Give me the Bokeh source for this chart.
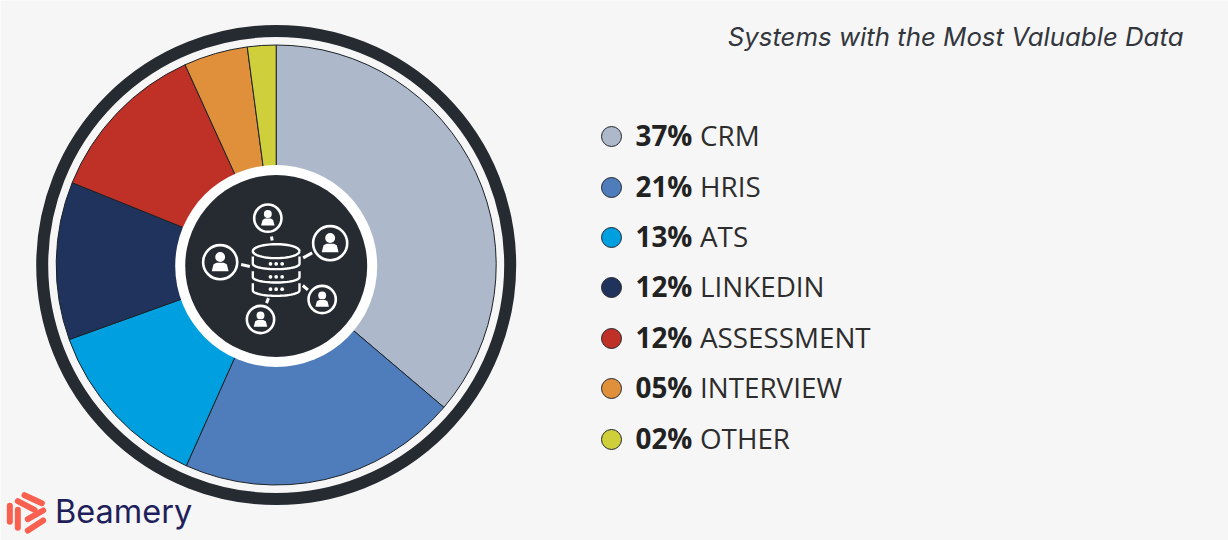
import numpy as np
from bokeh.plotting import figure
from bokeh.models import ColumnDataSource
from bokeh.core.properties import value
from bokeh.embed import file_html
from bokeh.resources import INLINE

categories = ["CRM", "HRIS", "ATS", "LINKEDIN", "ASSESSMENT", "INTERVIEW", "OTHER"]
drawn_shares = [36.2, 20.5, 12.8, 11.6, 12.1, 4.7, 2.1]  # slice sizes
share_labels = ["37%", "21%", "13%", "12%", "12%", "05%", "02%"]
colors = ["#adb9ca", "#4f7cba", "#009fdf", "#20335c", "#bf3026", "#e08f3b", "#cfcf3c"]
title = "Systems with the Most Valuable Data"

BG = "#f6f6f6"
DARK = "#262b31"
W, H = 1228, 540
BASE_SHIFT = 0.38  # distance, in em, between the anchor and the drawn baseline


def Y(y):
    return 540 - y


def base(y, size):
    return Y(y - BASE_SHIFT * size)


p = figure(width=W, height=H, x_range=(0, W), y_range=(0, H),
           output_backend="svg", toolbar_location=None, min_border=0,
           background_fill_color=BG, border_fill_color=BG, outline_line_color=None)
p.axis.visible = False
p.grid.visible = False

CX, CY = 275.7, Y(264.5)
p.circle([CX], [CY], radius=234, fill_color=None, line_color=DARK, line_width=12)

# pie, clockwise from the top
frac = np.array(drawn_shares, dtype=float) / sum(drawn_shares)
cum = np.concatenate([[0], np.cumsum(frac)])
src = ColumnDataSource(dict(
    start=np.pi / 2 - 2 * np.pi * cum[1:],
    end=np.pi / 2 - 2 * np.pi * cum[:-1],
    color=colors,
    x=[CX] * len(drawn_shares), y=[CY] * len(drawn_shares),
))
p.wedge(x="x", y="y", radius=220, start_angle="start", end_angle="end",
        fill_color="color", line_color="#1c2228", line_width=1, source=src)

# centre disc
p.circle([CX], [Y(265.5)], radius=101, fill_color="white", line_color=None)
p.circle([CX], [Y(265.5)], radius=91, fill_color=DARK, line_color=None)


# icon, in coordinates of the 3x crop of the centre
def zx(v):
    return 170 + v / 3


def zy(v):
    return Y(160 + v / 3)


def person(x, y, r):
    cx, cy = zx(x), zy(y)
    rr = r / 3
    p.circle([cx], [cy], radius=rr * 0.93, fill_color=None, line_color="white", line_width=2.6)
    p.circle([cx], [cy + rr * 0.28], radius=rr * 0.27, fill_color="white", line_color=None)
    xs = np.array([-0.46, -0.36, -0.2, 0.2, 0.36, 0.46])
    ys = np.array([-0.5, -0.12, -0.03, -0.03, -0.12, -0.5])
    p.patch(cx + xs * rr, cy + ys * rr, fill_color="white", line_color=None)


for x, y, r in [(292, 173, 44), (479, 248, 55), (149, 305, 55), (455, 417, 44), (270, 477, 44)]:
    person(x, y, r)

for x0, y0, x1, y1 in [(303, 228, 305, 240), (212, 312, 238, 318), (398, 292, 425, 277),
                       (397, 375, 412, 388), (294, 413, 288, 428)]:
    p.line([zx(x0), zx(x1)], [zy(y0), zy(y1)], line_color="white", line_width=3)

t = np.linspace(0, 2 * np.pi, 60)
p.line(zx(317 + 70 * np.cos(t)), zy(272 + 21 * np.sin(t)), line_color="white", line_width=2.4)
for y0, y1 in [(288, 310), (332, 350), (368, 390)]:
    t = np.linspace(np.pi, 0, 30)
    xs = np.concatenate([[317 - 70], 317 + 70 * np.cos(t), [317 + 70]])
    ys = np.concatenate([[y0], y1 + 16 * np.sin(t), [y0]])
    p.line(zx(xs), zy(ys), line_color="white", line_width=2.4)
for y in [310, 349, 386]:
    p.circle([zx(300), zx(317), zx(335)], [zy(y)] * 3, radius=1.9, fill_color="white", line_color=None)

# title
p.text([1183], [base(46, 25.8)], text=[title], text_font=value("Inter"), text_font_style="italic",
       text_font_size="25.8px", text_color="#33373d", text_align="right", text_baseline="alphabetic")

# legend
leg_y = [136, 187, 237, 287, 338, 388, 439]
p.circle([611] * 7, [Y(v) for v in leg_y], radius=10, fill_color=colors, line_color="#23282e", line_width=1)
p.text([635] * 7, [base(v + 9.5, 27.8) for v in leg_y], text=share_labels, text_font=value("Open Sans"),
       text_font_style="bold", text_font_size="27.8px", text_color="#222222", text_baseline="alphabetic")
p.text([699.5] * 7, [base(v + 9.5, 27.8) for v in leg_y], text=categories, text_font=value("Open Sans"),
       text_font_size="27.8px", text_color="#2d2d2d", text_baseline="alphabetic")

# logo
LOGO = "#f9604f"
for x0, y0, x1, y1 in [(72, 44, 124, 68), (52, 62, 102, 88), (28, 76, 28, 124), (52, 88, 52, 142),
                       (128, 90, 82, 116), (128, 120, 82, 150)]:
    p.line([x0 / 3, x1 / 3], [Y(480 + y0 / 3), Y(480 + y1 / 3)], line_color=LOGO,
           line_width=6, line_cap="round")
p.text([54.5], [base(523, 32.5)], text=["Beamery"], text_font=value("Inter"), text_font_size="32.5px",
       text_color="#1f1f5c", text_baseline="alphabetic")

html = file_html(p, INLINE)
html = html.replace("<body>", f'<body style="background:{BG}">', 1)
open("out.html", "w").write(html)
